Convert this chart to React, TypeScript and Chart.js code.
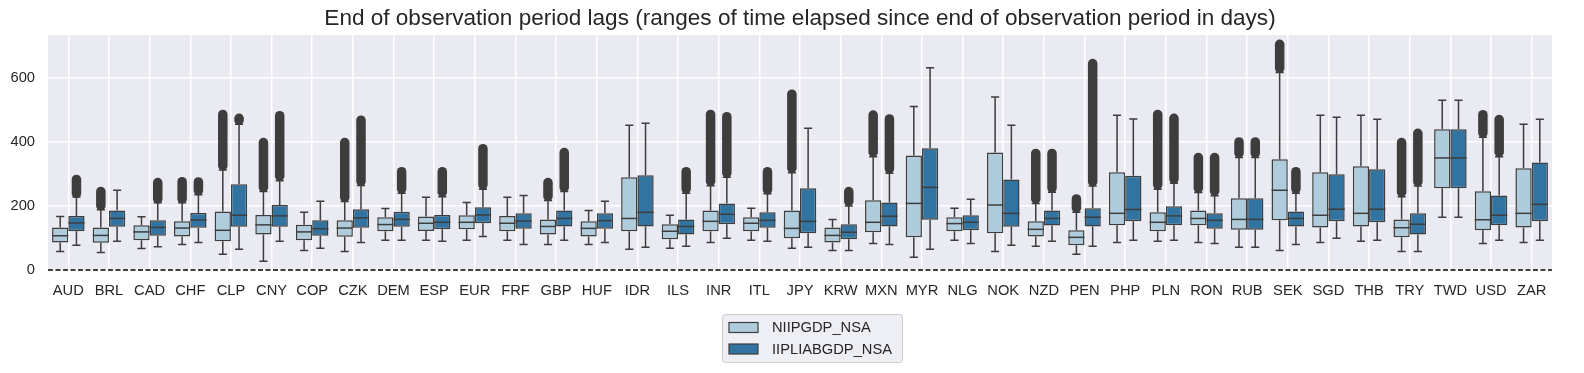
import React, { useEffect, useRef } from 'react';
import { Chart, registerables } from 'chart.js';

Chart.register(...registerables);

const TITLE = 'End of observation period lags (ranges of time elapsed since end of observation period in days)';
const CATEGORIES = ['AUD', 'BRL', 'CAD', 'CHF', 'CLP', 'CNY', 'COP', 'CZK', 'DEM', 'ESP', 'EUR', 'FRF', 'GBP', 'HUF', 'IDR', 'ILS', 'INR', 'ITL', 'JPY', 'KRW', 'MXN', 'MYR', 'NLG', 'NOK', 'NZD', 'PEN', 'PHP', 'PLN', 'RON', 'RUB', 'SEK', 'SGD', 'THB', 'TRY', 'TWD', 'USD', 'ZAR'];
const SERIES_NAMES = ['NIIPGDP_NSA', 'IIPLIABGDP_NSA'];
const Y_TICKS = [0, 200, 400, 600];

// NIIPGDP_NSA
const NIIP_WLO = [58, 55, 67, 80, 49, 27, 61, 58, 93, 93, 93, 93, 80, 80, 65, 68, 86, 93, 68, 61, 83, 40, 93, 58, 74, 49, 86, 90, 86, 71, 61, 86, 90, 58, 165, 83, 86];
const NIIP_Q1 = [86, 85, 93, 105, 90, 111, 93, 104, 121, 122, 127, 121, 111, 105, 121, 96, 121, 121, 99, 86, 118, 102, 121, 115, 105, 77, 140, 121, 140, 126, 155, 133, 136, 102, 255, 124, 133];
const NIIP_MED = [107, 108, 119, 131, 124, 141, 119, 131, 142, 146, 149, 146, 136, 130, 161, 121, 152, 146, 130, 108, 149, 208, 145, 203, 127, 102, 177, 149, 161, 158, 249, 171, 177, 132, 350, 157, 177];
const NIIP_Q3 = [133, 133, 140, 152, 183, 172, 141, 155, 165, 167, 171, 169, 158, 152, 290, 143, 186, 165, 186, 133, 218, 358, 165, 367, 152, 124, 305, 180, 186, 224, 346, 305, 324, 158, 440, 246, 318];
const NIIP_WHI = [167, 188, 166, 210, 312, 245, 180, 214, 192, 227, 211, 227, 217, 186, 452, 171, 263, 193, 304, 158, 354, 511, 193, 540, 208, 180, 483, 252, 242, 351, 617, 483, 483, 229, 530, 415, 455];
const NIIP_FLO = [null, 201, null, 222, 326, 258, null, 227, null, null, null, null, 230, null, null, null, 277, null, 318, null, 368, null, null, null, 222, 194, null, 266, 255, 365, 630, null, null, 243, null, 428, null];
const NIIP_FHI = [null, 245, null, 276, 486, 398, null, 398, null, null, null, null, 273, null, null, null, 486, null, 549, null, 484, null, null, null, 364, 222, null, 486, 351, 400, 705, null, null, 398, null, 485, null];

// IIPLIABGDP_NSA
const LIAB_WLO = [77, 90, 73, 86, 65, 90, 68, 86, 93, 90, 105, 80, 93, 86, 71, 74, 99, 90, 71, 61, 80, 65, 83, 77, 90, 74, 93, 93, 83, 71, 80, 99, 93, 58, 165, 93, 93];
const LIAB_Q1 = [121, 135, 107, 132, 135, 135, 107, 132, 135, 127, 146, 129, 136, 129, 136, 111, 143, 132, 115, 96, 136, 157, 124, 135, 139, 136, 152, 140, 129, 126, 136, 152, 149, 111, 255, 140, 152];
const LIAB_MED = [147, 161, 133, 156, 171, 169, 129, 163, 158, 149, 172, 153, 161, 154, 180, 136, 174, 155, 152, 118, 168, 258, 149, 177, 161, 165, 189, 169, 155, 158, 161, 190, 190, 143, 350, 171, 205];
const LIAB_Q3 = [169, 186, 155, 178, 268, 203, 155, 190, 182, 172, 196, 177, 186, 177, 296, 158, 208, 180, 255, 143, 211, 380, 171, 283, 186, 193, 294, 199, 177, 224, 183, 299, 315, 177, 440, 233, 336];
const LIAB_WHI = [228, 249, 210, 235, 455, 279, 215, 264, 240, 229, 252, 233, 245, 215, 458, 240, 290, 238, 443, 200, 302, 632, 221, 452, 243, 262, 472, 271, 232, 351, 240, 477, 471, 262, 530, 354, 471];
const LIAB_FLO = [239, null, 222, 248, 468, 293, null, 277, 253, 243, 266, null, 258, null, null, 253, 303, 251, null, 214, 316, null, null, null, 256, 276, null, 284, 246, 365, 253, null, null, 276, null, 368, null];
const LIAB_FHI = [283, null, 273, 275, 474, 482, null, 468, 307, 307, 379, null, 367, null, null, 307, 479, 307, null, 245, 472, null, null, null, 364, 645, null, 474, 351, 400, 307, null, null, 427, null, 470, null];

const FILLS = ['#aeccdb', '#3274a1'];
const EDGE = '#3d3d3d';
const TEXT = '#262626';
const BG = '#eaeaf2';
const FONT = "'Liberation Sans', Arial, sans-serif";
const TICK_SIZE = 14.7;

const STATS = [
  { wlo: NIIP_WLO, med: NIIP_MED, whi: NIIP_WHI, flo: NIIP_FLO, fhi: NIIP_FHI },
  { wlo: LIAB_WLO, med: LIAB_MED, whi: LIAB_WHI, flo: LIAB_FLO, fhi: LIAB_FHI },
];

const bgPlugin = {
  id: 'bgArea',
  beforeDraw(chart: any) {
    const { ctx, chartArea } = chart;
    ctx.save();
    ctx.fillStyle = BG;
    ctx.fillRect(chartArea.left, chartArea.top, chartArea.right - chartArea.left, chartArea.bottom - chartArea.top);
    ctx.restore();
  },
};

const boxPartsPlugin = {
  id: 'boxParts',
  beforeDatasetsDraw(chart: any) {
    const { ctx } = chart;
    const y = chart.scales.y;
    ctx.save();
    ctx.strokeStyle = EDGE;
    ctx.lineWidth = 1.5;
    chart.data.datasets.forEach((ds: any, di: number) => {
      const meta = chart.getDatasetMeta(di);
      const st = STATS[di];
      meta.data.forEach((el: any, i: number) => {
        const x = el.x;
        const half = el.width / 4;
        const q1 = ds.data[i][0];
        const q3 = ds.data[i][1];
        ctx.beginPath();
        ctx.moveTo(x, y.getPixelForValue(q1));
        ctx.lineTo(x, y.getPixelForValue(st.wlo[i]));
        ctx.moveTo(x, y.getPixelForValue(q3));
        ctx.lineTo(x, y.getPixelForValue(st.whi[i]));
        ctx.moveTo(x - half, y.getPixelForValue(st.wlo[i]));
        ctx.lineTo(x + half, y.getPixelForValue(st.wlo[i]));
        ctx.moveTo(x - half, y.getPixelForValue(st.whi[i]));
        ctx.lineTo(x + half, y.getPixelForValue(st.whi[i]));
        ctx.stroke();
      });
    });
    ctx.restore();
  },
  afterDatasetsDraw(chart: any) {
    const { ctx, chartArea } = chart;
    const y = chart.scales.y;
    ctx.save();
    chart.data.datasets.forEach((ds: any, di: number) => {
      const meta = chart.getDatasetMeta(di);
      const st = STATS[di];
      meta.data.forEach((el: any, i: number) => {
        const x = el.x;
        const w = el.width;
        ctx.strokeStyle = EDGE;
        ctx.lineWidth = 1.5;
        ctx.lineCap = 'butt';
        ctx.beginPath();
        ctx.moveTo(x - w / 2, y.getPixelForValue(st.med[i]));
        ctx.lineTo(x + w / 2, y.getPixelForValue(st.med[i]));
        ctx.stroke();
        if (st.flo[i] != null && st.fhi[i] != null) {
          ctx.lineCap = 'round';
          ctx.lineWidth = 9.5;
          ctx.beginPath();
          ctx.moveTo(x, y.getPixelForValue(st.flo[i]));
          ctx.lineTo(x, y.getPixelForValue(st.fhi[i]));
          ctx.stroke();
        }
      });
    });
    const y0 = y.getPixelForValue(0);
    ctx.lineCap = 'butt';
    ctx.strokeStyle = '#000000';
    ctx.lineWidth = 1.3;
    ctx.setLineDash([5, 2.5]);
    ctx.beginPath();
    ctx.moveTo(chartArea.left, y0);
    ctx.lineTo(chartArea.right, y0);
    ctx.stroke();
    ctx.setLineDash([]);
    ctx.restore();
  },
  afterDraw(chart: any) {
    const { ctx } = chart;
    const bx = 722, by = 314, bw = 180, bh = 48;
    ctx.save();
    ctx.beginPath();
    if (ctx.roundRect) ctx.roundRect(bx + 0.5, by + 0.5, bw, bh, 3);
    else ctx.rect(bx + 0.5, by + 0.5, bw, bh);
    ctx.fillStyle = 'rgba(234,234,242,0.8)';
    ctx.fill();
    ctx.strokeStyle = '#cccccc';
    ctx.lineWidth = 1;
    ctx.stroke();
    chart.data.datasets.forEach((ds: any, di: number) => {
      const cy = by + 13.5 + di * 21.5;
      ctx.fillStyle = ds.backgroundColor;
      ctx.fillRect(bx + 7, cy - 5, 29, 10);
      ctx.strokeStyle = EDGE;
      ctx.lineWidth = 1.2;
      ctx.strokeRect(bx + 7, cy - 5, 29, 10);
      ctx.fillStyle = TEXT;
      ctx.font = `${TICK_SIZE}px ${FONT}`;
      ctx.textBaseline = 'middle';
      ctx.textAlign = 'left';
      ctx.fillText(ds.label, bx + 50, cy + 0.5);
    });
    ctx.restore();
  },
};

export default function App() {
  const canvasRef = useRef<HTMLCanvasElement | null>(null);

  useEffect(() => {
    document.body.style.margin = '0';
    const canvas = canvasRef.current;
    if (!canvas) return;
    Chart.defaults.font.family = FONT;
    const chart = new Chart(canvas, {
      type: 'bar',
      data: {
        labels: CATEGORIES,
        datasets: [
          {
            label: SERIES_NAMES[0],
            data: CATEGORIES.map((_, i) => [NIIP_Q1[i], NIIP_Q3[i]]) as any,
            backgroundColor: FILLS[0],
            borderColor: EDGE,
            borderWidth: 1.5,
            borderSkipped: false,
            categoryPercentage: 0.8,
            barPercentage: 1.0,
          },
          {
            label: SERIES_NAMES[1],
            data: CATEGORIES.map((_, i) => [LIAB_Q1[i], LIAB_Q3[i]]) as any,
            backgroundColor: FILLS[1],
            borderColor: EDGE,
            borderWidth: 1.5,
            borderSkipped: false,
            categoryPercentage: 0.8,
            barPercentage: 1.0,
          },
        ],
      },
      options: {
        responsive: false,
        animation: false,
        layout: { padding: { left: 0, right: 32, top: 0, bottom: 0 } },
        plugins: {
          legend: { display: false },
          tooltip: { enabled: false },
          title: {
            display: true,
            fullSize: false,
            text: TITLE,
            color: TEXT,
            font: { size: 22.55, family: FONT, weight: 'normal' },
            padding: { top: 5, bottom: 2.94 },
          },
        },
        scales: {
          x: {
            grid: { color: '#ffffff', lineWidth: 1.5, offset: false, drawTicks: false },
            border: { display: false },
            ticks: { color: TEXT, font: { size: TICK_SIZE, family: FONT }, padding: 12, maxRotation: 0, autoSkip: false },
            afterFit: (s: any) => { s.height = 103; },
          },
          y: {
            min: 0,
            max: 734,
            grid: { color: '#ffffff', lineWidth: 1.5, drawTicks: false },
            border: { display: false },
            ticks: { color: TEXT, font: { size: TICK_SIZE, family: FONT }, padding: 13 },
            afterBuildTicks: (s: any) => { s.ticks = Y_TICKS.map((v) => ({ value: v })); },
            afterFit: (s: any) => { s.width = 48; },
          },
        },
      } as any,
      plugins: [bgPlugin, boxPartsPlugin],
    });
    return () => chart.destroy();
  }, []);

  return (
    <div style={{ width: 1584, height: 373, background: '#ffffff' }}>
      <canvas ref={canvasRef} width={1584} height={373} style={{ display: 'block' }} />
    </div>
  );
}
